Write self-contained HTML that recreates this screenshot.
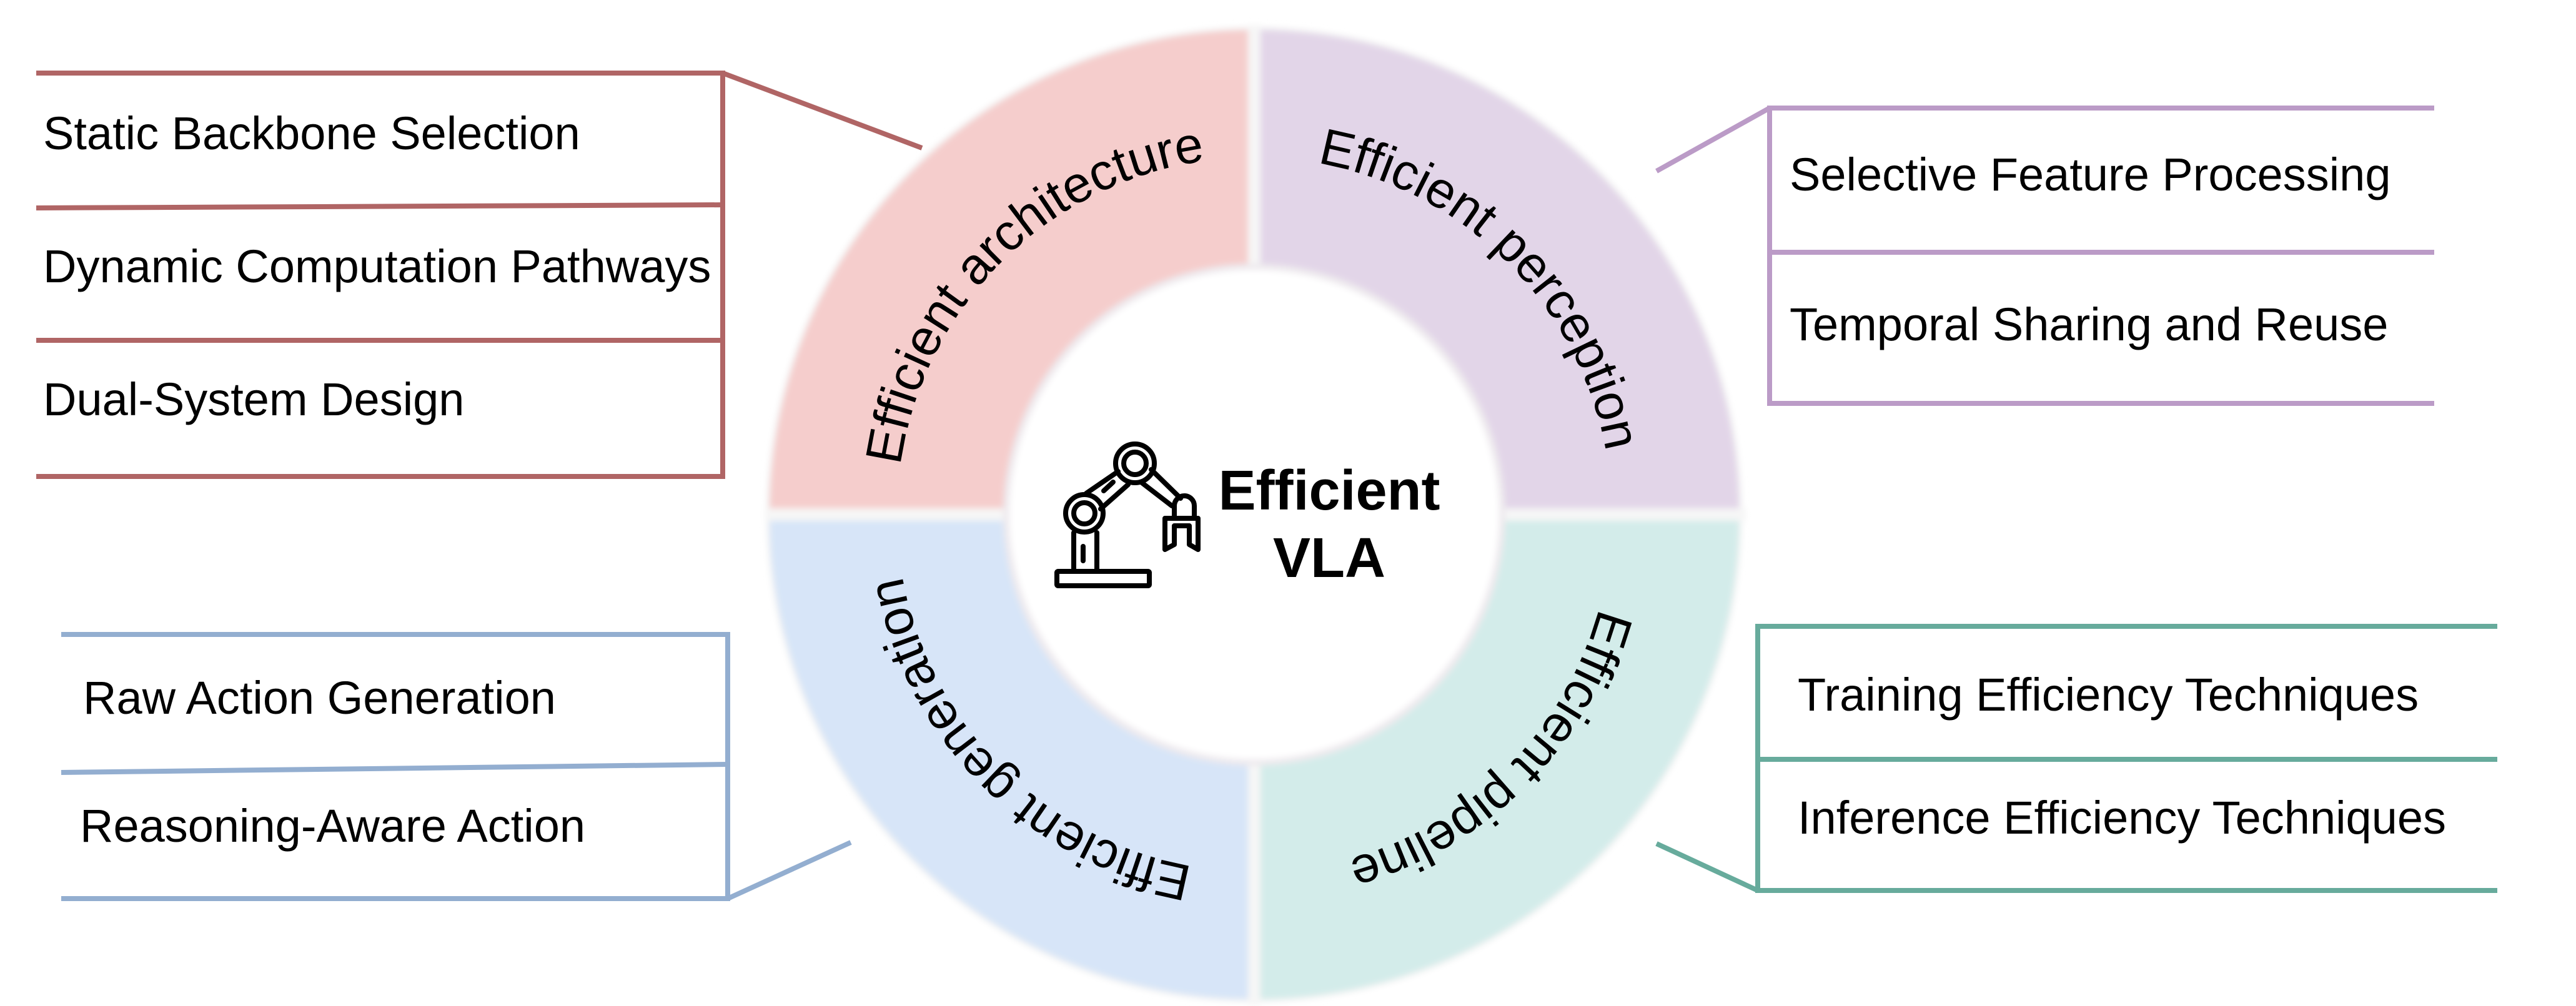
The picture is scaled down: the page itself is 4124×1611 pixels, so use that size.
<!DOCTYPE html>
<html><head><meta charset="utf-8"><style>
html,body{margin:0;padding:0;background:#fff;}
svg{display:block;}
text{font-family:"Liberation Sans",Arial,sans-serif;}
</style></head><body>
<svg width="4124" height="1611" viewBox="0 0 4124 1611" xmlns="http://www.w3.org/2000/svg">
<defs>
<filter id="soft" x="-5%" y="-5%" width="110%" height="110%"><feGaussianBlur stdDeviation="5"/></filter>
<path id="pA" d="M1436,824 A572,572 0 0 1 2008,252"/>
<path id="pP" d="M2008,252 A572,572 0 0 1 2580,824"/>
<path id="pL" d="M2580,824 A572,572 0 0 1 2008,1396"/>
<path id="pG" d="M2008,1396 A572,572 0 0 1 1436,824"/>
</defs>
<g filter="url(#soft)">
<circle cx="2008" cy="824" r="781" fill="#f3f3f3"/>
<path d="M2008,824 L1232,824 A776,776 0 0 1 2008,48 Z" fill="#f5cdcc"/>
<path d="M2008,824 L2008,48 A776,776 0 0 1 2784,824 Z" fill="#e2d5e8"/>
<path d="M2008,824 L2784,824 A776,776 0 0 1 2008,1600 Z" fill="#d3ecea"/>
<path d="M2008,824 L2008,1600 A776,776 0 0 1 1232,824 Z" fill="#d7e5f8"/>
<rect x="1998" y="40" width="20" height="1570" fill="#f6f6f6"/>
<rect x="1225" y="814" width="1570" height="20" fill="#f6f6f6"/>
<circle cx="2008" cy="824" r="402" fill="#eeeaee"/>
<circle cx="2008" cy="824" r="392" fill="#fff"/>
</g>

<g font-size="82" fill="#000">
<text><textPath href="#pA" startOffset="50%" text-anchor="middle">Efficient architecture</textPath></text>
<text><textPath href="#pP" startOffset="50%" text-anchor="middle">Efficient perception</textPath></text>
<text><textPath href="#pL" startOffset="50%" text-anchor="middle">Efficient pipeline</textPath></text>
<text><textPath href="#pG" startOffset="50%" text-anchor="middle">Efficient generation</textPath></text>
</g>

<text x="2128" y="816" font-size="90" font-weight="bold" text-anchor="middle">Efficient</text>
<text x="2128" y="924" font-size="90" font-weight="bold" text-anchor="middle">VLA</text>

<g fill="none" stroke="#000" stroke-width="8" stroke-linejoin="round" stroke-linecap="round">
<rect x="1692" y="915" width="148" height="23" rx="2"/>
<path d="M1719,913 V853 M1756,913 V853"/>
<path d="M1734,875 V898"/>
<circle cx="1736" cy="822" r="30"/>
<circle cx="1736" cy="822" r="17"/>
<circle cx="1817" cy="742" r="31"/>
<circle cx="1817" cy="742" r="18"/>
<path d="M1739,790 L1790,755 M1762,815 L1806,776"/>
<path d="M1767,786 L1782,772"/>
<path d="M1843,752 L1890,798 M1828,773 L1876,810"/>
<path d="M1880,828 V810 A16,16 0 0 1 1912,810 V828"/>
<path d="M1865,830 H1918 V880 L1904,872 V842 H1880 V872 L1865,880 Z"/>
</g>

<g fill="none" stroke-width="8">
<g stroke="#b06565">
<path d="M58,117 H1157 V763 H58"/>
<path d="M58,333 L1157,328 M58,545 H1157"/>
<path d="M1157,117 L1476,237"/>
</g>
<g stroke="#bb9bc7">
<path d="M3897,173 H2833 V646 H3897"/>
<path d="M2833,404 H3897"/>
<path d="M2833,173 L2652,274"/>
</g>
<g stroke="#67ab9c">
<path d="M3998,1003 H2814 V1426 H3998"/>
<path d="M2814,1216 H3998"/>
<path d="M2814,1426 L2652,1351"/>
</g>
<g stroke="#93aed0">
<path d="M98,1016 H1165 V1439 H98"/>
<path d="M98,1237 L1165,1224"/>
<path d="M1165,1439 L1362,1349"/>
</g>
</g>

<g font-size="74" fill="#000">
<text x="69" y="239">Static Backbone Selection</text>
<text x="69" y="452">Dynamic Computation Pathways</text>
<text x="69" y="665">Dual-System Design</text>
<text x="2865" y="305">Selective Feature Processing</text>
<text x="2865" y="545">Temporal Sharing and Reuse</text>
<text x="2878" y="1138">Training Efficiency Techniques</text>
<text x="2878" y="1335">Inference Efficiency Techniques</text>
<text x="133" y="1143">Raw Action Generation</text>
<text x="128" y="1348">Reasoning-Aware Action</text>
</g>
</svg>
</body></html>
